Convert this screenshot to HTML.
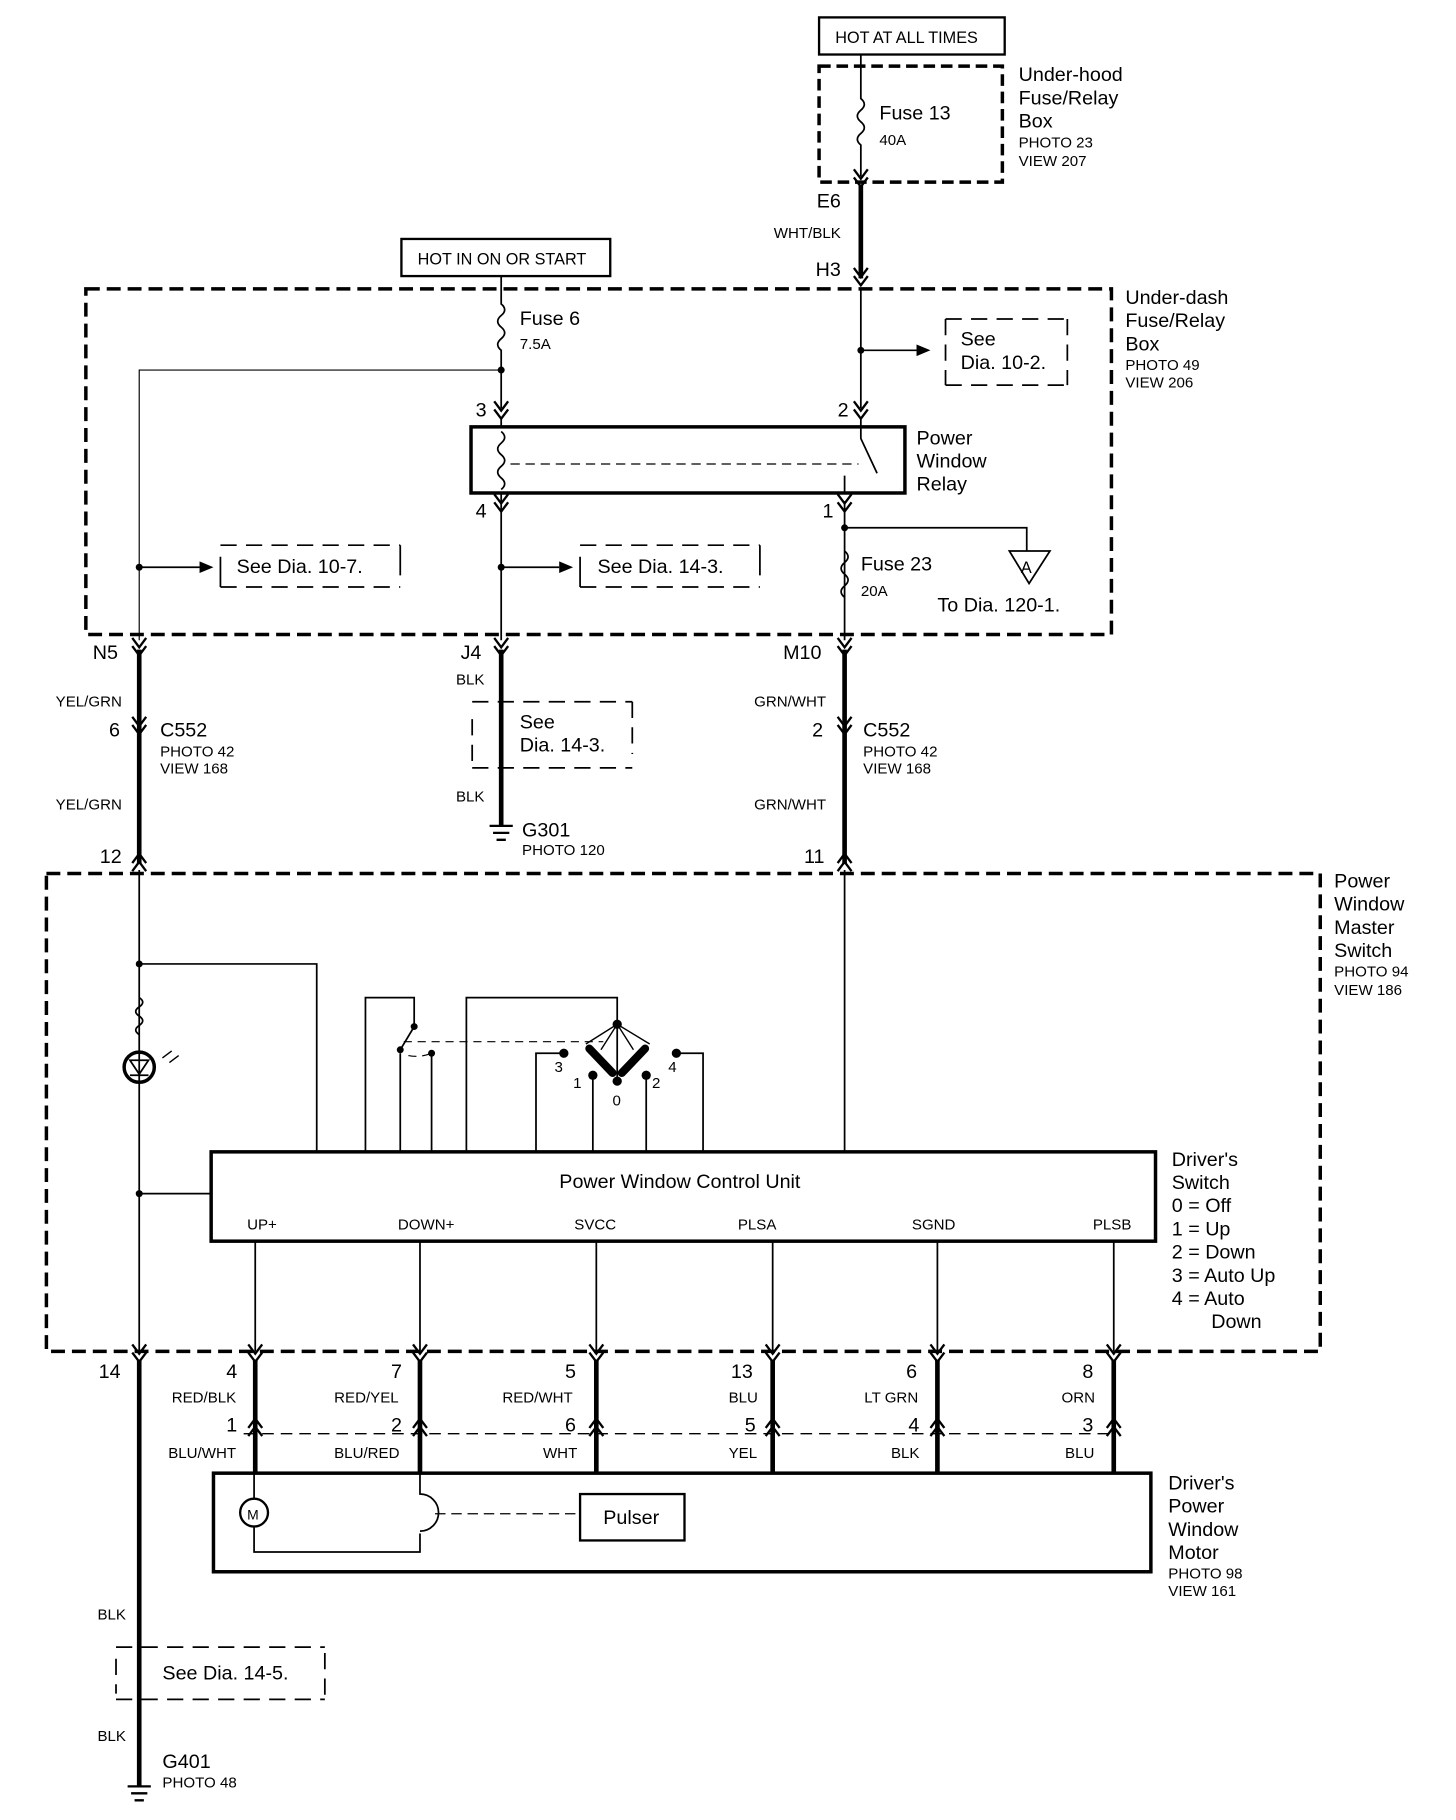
<!DOCTYPE html><html><head><style>html,body{margin:0;padding:0;background:#fff}svg{display:block}text{font-family:"Liberation Sans",sans-serif;fill:#000}</style></head><body>
<svg width="1456" height="1820" viewBox="0 0 1255 1569" preserveAspectRatio="none" xmlns="http://www.w3.org/2000/svg">
<defs>
<g id="cd"><path d="M-6,-6 L0,2 L6,-6" fill="none" stroke="#000" stroke-width="2"/><path d="M-6,1 L0,9 L6,1" fill="none" stroke="#000" stroke-width="2"/></g>
<g id="cu"><path d="M-6,6 L0,-2 L6,6" fill="none" stroke="#000" stroke-width="2"/><path d="M-6,-1 L0,-9 L6,-1" fill="none" stroke="#000" stroke-width="2"/></g>
</defs>
<g fill="none" stroke="#000">
<rect x="706" y="15" width="160" height="32" stroke-width="2"/>
<rect x="706" y="57" width="158" height="100" stroke-width="3" stroke-dasharray="10,5"/>
<path d="M742,47V85 q6,5 0,10 q-6,5 0,10 q6,5 0,10 q-6,5 0,10 V152" stroke-width="1.5"/>
<path d="M742,160V240" stroke-width="4"/>
<rect x="346" y="206" width="180" height="32" stroke-width="2"/>
<rect x="74" y="249" width="884" height="298" stroke-width="3" stroke-dasharray="12,6"/>
<path d="M432,238V262 q6,5 0,10 q-6,5 0,10 q6,5 0,10 q-6,5 0,10 V352" stroke-width="1.5"/>
<path d="M432,319H120V552" stroke-width="1"/>
<rect x="406" y="368" width="374" height="57" stroke-width="3"/>
<path d="M432,360V368 M432,372 q6,5 0,10 q-6,5 0,10 q6,5 0,10 q-6,5 0,10 q6,5 0,10 M432,425V552" stroke-width="1.5"/>
<path d="M440,400H740" stroke-width="1" stroke-dasharray="8,5"/>
<path d="M742,250V352 M742,360V378 L756,408 M728,425V410 M742,302H790" stroke-width="1.5"/>
<path d="M728,432V552 M728,455H885V475 M728,455V475 q6,5 0,10 q-6,5 0,10 q6,5 0,10 q-6,5 0,10" stroke-width="1.5"/>
<path d="M870,475H905L887,503Z" stroke-width="1.5"/>
<path d="M815,275H920 M815,332H920 M815,275V332 M920,275V332" stroke-width="1.5" stroke-dasharray="14,8"/>
<path d="M120,489H172 M432,489H482" stroke-width="1.5"/>
<path d="M190,470H345 M190,506H345 M500,470H655 M500,506H655" stroke-width="1.5" stroke-dasharray="14,8"/>
<path d="M190,480V506 M345,470V496 M500,480V506 M655,470V496" stroke-width="1.5"/>
<path d="M120,560V745 M432,560V712 M728,560V745" stroke-width="4"/>
<path d="M407,605H545 M407,662H545 M407,620V660 M545,605V650" stroke-width="1.5" stroke-dasharray="14,8"/>
<path d="M422,712H442 M425,718H439 M428,724H436" stroke-width="2"/>
<rect x="40" y="753" width="1098" height="412" stroke-width="3" stroke-dasharray="12,6"/>
<path d="M120,750V1165 M120,831H273V993 M120,1029H182 M728,750V993" stroke-width="1.5"/>
<path d="M120,860 q6,4 0,8 q-6,4 0,8 q6,4 0,8 q-6,4 0,8" stroke-width="1.5"/>
<circle cx="120" cy="920" r="13" stroke-width="3"/>
<path d="M112,914H128L120,926Z M112,927H128" stroke-width="1.5"/>
<path d="M140,912l8,-6 M146,916l8,-6" stroke-width="1.2"/>
<path d="M315,993V860H357V885 L345,905 M345,908V993 M372,908V993 M402,993V860H532V883" stroke-width="1.5"/>
<path d="M348,898H520 M352,910Q362,912 372,908" stroke-width="1" stroke-dasharray="7,5"/>
<path d="M462,993V908 H486 M606,993V908 H583 M511,993V927 M557,993V927 M532,885V930" stroke-width="1.5"/>
<path d="M532,883L505,900 M532,883L518,905 M532,883L546,905 M532,883L560,900" stroke-width="1.2"/>
<path d="M508,904L528,925 M556,904L536,925" stroke-width="7" stroke-linecap="round"/>
<rect x="182" y="993" width="814" height="77" stroke-width="3"/>
<path d="M220,1070V1165 M362,1070V1165 M514,1070V1165 M666,1070V1165 M808,1070V1165 M960,1070V1165" stroke-width="1.5"/>
<path d="M220,1172V1270 M362,1172V1270 M514,1172V1270 M666,1172V1270 M808,1172V1270 M960,1172V1270 M120,1172V1540" stroke-width="4"/>
<path d="M210,1236H960" stroke-width="1.2" stroke-dasharray="10,6"/>
<rect x="184" y="1270" width="808" height="85" stroke-width="3"/>
<circle cx="219" cy="1304" r="12" stroke-width="2"/>
<path d="M219,1270V1292 M219,1316V1338H362V1322 M362,1270V1288 a8,8 0 0 1 0,32" stroke-width="1.5"/>
<path d="M375,1305H500" stroke-width="1" stroke-dasharray="9,5"/>
<rect x="500" y="1288" width="90" height="40" stroke-width="2"/>
<path d="M100,1420H280 M100,1465H280 M100,1430V1460 M280,1425V1465" stroke-width="1.5" stroke-dasharray="14,8"/>
<path d="M110,1540H130 M113,1546H127 M116,1552H124" stroke-width="2"/>
</g>
<g fill="#000">
<circle cx="432" cy="319" r="3"/><circle cx="120" cy="489" r="3"/><circle cx="432" cy="489" r="3"/><circle cx="742" cy="302" r="3"/><circle cx="728" cy="455" r="3"/>
<circle cx="120" cy="831" r="3"/><circle cx="120" cy="1029" r="3"/><circle cx="532" cy="883" r="4"/><circle cx="511" cy="927" r="4"/><circle cx="557" cy="927" r="4"/><circle cx="532" cy="932" r="4"/><circle cx="486" cy="908" r="4"/><circle cx="583" cy="908" r="4"/><circle cx="357" cy="885" r="3"/><circle cx="345" cy="905" r="3"/><circle cx="372" cy="908" r="3"/>
<path d="M790,297L802,302L790,307Z M172,484L184,489L172,494Z M482,484L494,489L482,494Z"/>
</g>
<use href="#cd" x="742" y="152"/><use href="#cd" x="742" y="237"/><use href="#cd" x="432" y="352"/><use href="#cd" x="742" y="352"/><use href="#cd" x="432" y="432"/><use href="#cd" x="728" y="432"/>
<use href="#cd" x="120" y="556"/><use href="#cd" x="432" y="556"/><use href="#cd" x="728" y="556"/><use href="#cd" x="120" y="624"/><use href="#cd" x="728" y="624"/><use href="#cu" x="120" y="745"/><use href="#cu" x="728" y="745"/>
<use href="#cd" x="120" y="1165"/><use href="#cd" x="220" y="1165"/><use href="#cd" x="362" y="1165"/><use href="#cd" x="514" y="1165"/><use href="#cd" x="666" y="1165"/><use href="#cd" x="808" y="1165"/><use href="#cd" x="960" y="1165"/>
<use href="#cu" x="220" y="1232"/><use href="#cu" x="362" y="1232"/><use href="#cu" x="514" y="1232"/><use href="#cu" x="666" y="1232"/><use href="#cu" x="808" y="1232"/><use href="#cu" x="960" y="1232"/>
<g font-size="14">
<text x="720" y="37">HOT AT ALL TIMES</text><text x="360" y="228">HOT IN ON OR START</text>
</g>
<g font-size="17">
<text x="758" y="103">Fuse 13</text><text x="878" y="70">Under-hood</text><text x="878" y="90">Fuse/Relay</text><text x="878" y="110">Box</text>
<text x="704" y="179">E6</text><text x="703" y="238">H3</text>
<text x="448" y="280">Fuse 6</text><text x="970" y="262">Under-dash</text><text x="970" y="282">Fuse/Relay</text><text x="970" y="302">Box</text>
<text x="828" y="298">See</text><text x="828" y="318">Dia.  10-2.</text>
<text x="410" y="359">3</text><text x="722" y="359">2</text><text x="410" y="446">4</text><text x="709" y="446">1</text>
<text x="790" y="383">Power</text><text x="790" y="403">Window</text><text x="790" y="423">Relay</text>
<text x="742" y="492">Fuse 23</text><text x="808" y="527">To Dia. 120-1.</text><text x="880" y="494" font-size="14">A</text>
<text x="204" y="494">See Dia. 10-7.</text><text x="515" y="494">See Dia. 14-3.</text>
<text x="80" y="568">N5</text><text x="397" y="568">J4</text><text x="675" y="568">M10</text>
<text x="94" y="635">6</text><text x="138" y="635">C552</text><text x="700" y="635">2</text><text x="744" y="635">C552</text>
<text x="448" y="628">See</text><text x="448" y="648">Dia.  14-3.</text>
<text x="450" y="721">G301</text><text x="86" y="744">12</text><text x="693" y="744">11</text>
<text x="1150" y="765">Power</text><text x="1150" y="785">Window</text><text x="1150" y="805">Master</text><text x="1150" y="825">Switch</text>
<text x="586" y="1024" text-anchor="middle">Power Window Control Unit</text>
<text x="1010" y="1005">Driver's</text><text x="1010" y="1025">Switch</text><text x="1010" y="1045">0 = Off</text><text x="1010" y="1065">1 = Up</text><text x="1010" y="1085">2 = Down</text><text x="1010" y="1105">3 = Auto Up</text><text x="1010" y="1125">4 = Auto</text><text x="1044" y="1145">Down</text>
<text x="85" y="1188">14</text><text x="195" y="1188">4</text><text x="337" y="1188">7</text><text x="487" y="1188">5</text><text x="630" y="1188">13</text><text x="781" y="1188">6</text><text x="933" y="1188">8</text>
<text x="195" y="1234">1</text><text x="337" y="1234">2</text><text x="487" y="1234">6</text><text x="642" y="1234">5</text><text x="783" y="1234">4</text><text x="933" y="1234">3</text>
<text x="520" y="1314">Pulser</text>
<text x="1007" y="1284">Driver's</text><text x="1007" y="1304">Power</text><text x="1007" y="1324">Window</text><text x="1007" y="1344">Motor</text>
<text x="140" y="1448">See Dia. 14-5.</text><text x="140" y="1524">G401</text>
</g>
<g font-size="13">
<text x="758" y="125">40A</text><text x="878" y="127">PHOTO 23</text><text x="878" y="143">VIEW 207</text>
<text x="667" y="205">WHT/BLK</text><text x="448" y="301">7.5A</text><text x="970" y="319">PHOTO 49</text><text x="970" y="334">VIEW 206</text>
<text x="742" y="514">20A</text>
<text x="48" y="609">YEL/GRN</text><text x="138" y="652">PHOTO 42</text><text x="138" y="667">VIEW 168</text><text x="48" y="698">YEL/GRN</text>
<text x="393" y="590">BLK</text><text x="393" y="691">BLK</text><text x="450" y="737">PHOTO 120</text>
<text x="650" y="609">GRN/WHT</text><text x="744" y="652">PHOTO 42</text><text x="744" y="667">VIEW 168</text><text x="650" y="698">GRN/WHT</text>
<text x="1150" y="842">PHOTO 94</text><text x="1150" y="858">VIEW 186</text>
<text x="213" y="1060">UP+</text><text x="343" y="1060">DOWN+</text><text x="495" y="1060">SVCC</text><text x="636" y="1060">PLSA</text><text x="786" y="1060">SGND</text><text x="942" y="1060">PLSB</text>
<text x="148" y="1209">RED/BLK</text><text x="288" y="1209">RED/YEL</text><text x="433" y="1209">RED/WHT</text><text x="628" y="1209">BLU</text><text x="745" y="1209">LT GRN</text><text x="915" y="1209">ORN</text>
<text x="145" y="1257">BLU/WHT</text><text x="288" y="1257">BLU/RED</text><text x="468" y="1257">WHT</text><text x="628" y="1257">YEL</text><text x="768" y="1257">BLK</text><text x="918" y="1257">BLU</text>
<text x="1007" y="1361">PHOTO 98</text><text x="1007" y="1376">VIEW 161</text>
<text x="84" y="1396">BLK</text><text x="84" y="1501">BLK</text><text x="140" y="1541">PHOTO 48</text>
<text x="478" y="924">3</text><text x="494" y="938">1</text><text x="528" y="953">0</text><text x="562" y="938">2</text><text x="576" y="924">4</text>
<text x="213" y="1310" font-size="12">M</text>
</g>
</svg>
</body></html>
